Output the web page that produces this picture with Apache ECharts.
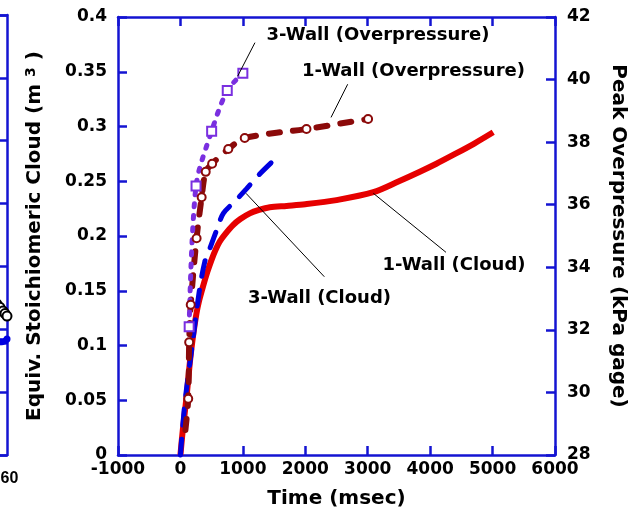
<!DOCTYPE html>
<html>
<head>
<meta charset="utf-8">
<script src="https://cdn.jsdelivr.net/npm/echarts@6/dist/echarts.min.js"></script>
<style>
  html, body { margin: 0; padding: 0; background: #fff; }
  #chart { width: 636px; height: 508px; }
</style>
</head>
<body>
<div id="chart"></div>
<script>
// Equivalent stoichiometric cloud volume, m^3 (left axis)
const oneWallCloudTime = [0, 40, 100, 150, 200, 256, 300, 362, 430, 497, 560, 630, 720, 843, 960, 1111, 1260, 1431, 1700, 2000, 2500, 3090, 3500, 3835, 4100, 4369, 4700, 5010];
const oneWallCloudVol  = [0, 0.024, 0.054, 0.084, 0.108, 0.129, 0.141, 0.154, 0.167, 0.178, 0.187, 0.195, 0.202, 0.210, 0.2155, 0.2207, 0.2238, 0.2262, 0.2275, 0.229, 0.2328, 0.2400, 0.2500, 0.2587, 0.2660, 0.2740, 0.2842, 0.2947];

const threeWallCloudTime = [0, 70, 186, 298, 390, 474, 591, 687, 880, 1050, 1250, 1510];
const threeWallCloudVol  = [0, 0.047, 0.099, 0.148, 0.1765, 0.189, 0.207, 0.2207, 0.232, 0.2426, 0.2555, 0.270];

// Peak overpressure, kPa gage (right axis)
const oneWallOpTime = [80, 125, 140, 165, 259, 340, 405, 508, 767, 1030, 2019, 3006];
const oneWallOpKPa  = [28.8, 29.8, 31.6, 32.8, 34.93, 36.24, 37.05, 37.31, 37.78, 38.13, 38.42, 38.74];

const threeWallOpTime = [140, 250, 500, 750, 1000];
const threeWallOpKPa  = [32.1, 36.6, 38.35, 39.65, 40.2];

// Last few samples of the adjoining panel to the left
const sidePanelBlackX = [59.0, 59.3, 59.6, 59.8, 60];
const sidePanelBlackY = [2.40, 2.35, 2.29, 2.25, 2.21];
const sidePanelBlueX  = [59.3, 59.5, 59.8, 60];
const sidePanelBlueY  = [1.80, 1.80, 1.81, 1.845];

// Callout texts
const labelThreeWallOp = '3-Wall (Overpressure)';
const labelOneWallOp   = '1-Wall (Overpressure)';
const labelThreeWallCloud = '3-Wall (Cloud)';
const labelOneWallCloud   = '1-Wall (Cloud)';

const zip = (xs, ys) => xs.map((x, i) => [x, ys[i]]);
const plain = v => String(v);

const AXIS_BLUE = '#1414d2';
const FONT = 'DejaVu Sans';

function axisLook(extra) {
  return Object.assign({
    axisLine: { show: true, onZero: false, lineStyle: { color: AXIS_BLUE, width: 2.5 } },
    axisTick: { show: true, inside: true, length: 9, lineStyle: { color: AXIS_BLUE, width: 2.5 } },
    splitLine: { show: false },
    nameMoveOverlap: false,
    axisLabel: { color: '#000', fontFamily: FONT, fontWeight: 'bold', fontSize: 17, formatter: plain }
  }, extra);
}

function callout(text, at, from, to) {
  return {
    markLine: {
      silent: true,
      symbol: ['none', 'none'],
      label: { show: false },
      lineStyle: { color: '#000', width: 1, type: 'solid' },
      data: [[{ coord: from }, { coord: to }]]
    },
    markPoint: {
      silent: true,
      symbol: 'rect',
      symbolSize: 1,
      itemStyle: { color: 'transparent' },
      label: {
        show: true, position: 'inside', formatter: text,
        color: '#000', fontFamily: FONT, fontWeight: 'bold', fontSize: 18
      },
      data: [{ coord: at }]
    }
  };
}

const chart = echarts.init(document.getElementById('chart'), null, { renderer: 'canvas' });

const withSymbols = (xs, ys, skipFirst) => zip(xs, ys).map((p, i) =>
  (skipFirst && i === 0) ? { value: p, symbol: 'none' } : { value: p });

chart.setOption({
  animation: false,
  backgroundColor: '#fff',
  grid: [
    { left: 118, right: 81, top: 17, bottom: 53, outerBoundsMode: 'none' },
    { left: -593, right: 629, top: 15, bottom: 53, outerBoundsMode: 'none' }
  ],
  xAxis: [
    axisLook({
      gridIndex: 0, type: 'value', position: 'bottom', min: -1000, max: 6000, interval: 1000,
      axisLabel: { color: '#000', fontFamily: FONT, fontWeight: 'bold', fontSize: 17, margin: 6, formatter: plain },
      name: 'Time (msec)', nameLocation: 'middle', nameGap: 34,
      nameTextStyle: { color: '#000', fontFamily: FONT, fontWeight: 'bold', fontSize: 20 }
    }),
    axisLook({
      gridIndex: 0, type: 'value', position: 'top', min: -1000, max: 6000, interval: 1000,
      axisLabel: { show: false }
    }),
    axisLook({
      gridIndex: 1, type: 'value', position: 'bottom', min: 0, max: 60, interval: 10,
      axisTick: { show: false },
      axisLabel: { color: '#000', fontFamily: 'Liberation Sans', fontWeight: 'bold', fontSize: 16, margin: 16, padding: [0, 0, 0, 5], formatter: plain }
    }),
    axisLook({
      gridIndex: 1, type: 'value', position: 'top', min: 0, max: 60, interval: 10,
      axisTick: { show: false }, axisLabel: { show: false }
    })
  ],
  yAxis: [
    axisLook({
      gridIndex: 0, type: 'value', position: 'left', min: 0, max: 0.4, interval: 0.05,
      axisLabel: { color: '#000', fontFamily: FONT, fontWeight: 'bold', fontSize: 17, margin: 11, formatter: plain },
      name: 'Equiv. Stoichiomeric Cloud (m {sup|3} )', nameLocation: 'middle', nameGap: 72, nameRotate: 90,
      nameTextStyle: {
        color: '#000', fontFamily: FONT, fontWeight: 'bold', fontSize: 20, lineHeight: 22,
        verticalAlign: 'bottom',
        rich: {
          sup: { color: '#000', fontFamily: FONT, fontWeight: 'bold', fontSize: 14, lineHeight: 14,
                 padding: [0, 0, 18, 0], verticalAlign: 'top' }
        }
      }
    }),
    axisLook({
      gridIndex: 0, type: 'value', position: 'right', min: 28, max: 42, interval: 2,
      axisLabel: { color: '#000', fontFamily: FONT, fontWeight: 'bold', fontSize: 17, margin: 12, formatter: plain },
      name: 'Peak Overpressure (kPa gage)', nameLocation: 'middle', nameGap: 53, nameRotate: -90,
      nameTextStyle: { color: '#000', fontFamily: FONT, fontWeight: 'bold', fontSize: 20 }
    }),
    axisLook({
      gridIndex: 1, type: 'value', position: 'right', min: 0, max: 7, interval: 1,
      axisTick: { show: true, inside: true, length: 7, lineStyle: { color: AXIS_BLUE, width: 2.5 } },
      axisLabel: { show: false }
    })
  ],
  series: [
    Object.assign({
      name: labelOneWallCloud, type: 'line', xAxisIndex: 0, yAxisIndex: 0,
      data: zip(oneWallCloudTime, oneWallCloudVol),
      smooth: 0.3, showSymbol: false, clip: false,
      lineStyle: { color: '#e60000', width: 6 }
    }, callout(labelOneWallCloud, [4382, 0.1728], [4254, 0.1851], [3090, 0.239])),
    Object.assign({
      name: labelThreeWallCloud, type: 'line', xAxisIndex: 0, yAxisIndex: 0,
      data: zip(threeWallCloudTime, threeWallCloudVol),
      smooth: 0.3, showSymbol: false, clip: false,
      lineStyle: { color: '#0000e0', width: 5, type: [16, 14], cap: 'round' }
    }, callout(labelThreeWallCloud, [2228, 0.1429], [2305, 0.1628], [1050, 0.239])),
    Object.assign({
      name: labelOneWallOp, type: 'line', xAxisIndex: 0, yAxisIndex: 1,
      data: withSymbols(oneWallOpTime, oneWallOpKPa, true),
      smooth: 0.3, showSymbol: true, showAllSymbol: true, clip: false,
      symbol: 'emptyCircle', symbolSize: 8,
      itemStyle: { color: '#8b0a0a', borderWidth: 1.5 },
      lineStyle: { color: '#8b0a0a', width: 6, type: [11, 13], cap: 'round' }
    }, callout(labelOneWallOp, [3733, 40.27], [2679, 39.85], [2412, 38.79])),
    Object.assign({
      name: labelThreeWallOp, type: 'line', xAxisIndex: 0, yAxisIndex: 1,
      data: withSymbols(threeWallOpTime, threeWallOpKPa, false),
      smooth: 0.3, showSymbol: true, showAllSymbol: true, clip: false,
      symbol: 'emptyRect', symbolSize: 9,
      itemStyle: { color: '#7a2fe0', borderWidth: 1.5 },
      lineStyle: { color: '#7a2fe0', width: 5, type: [3, 9], cap: 'round' }
    }, callout(labelThreeWallOp, [3165, 41.42], [1194, 41.18], [917, 40.11])),
    {
      type: 'line', xAxisIndex: 2, yAxisIndex: 2, clip: false,
      data: zip(sidePanelBlackX, sidePanelBlackY),
      symbol: 'emptyCircle', symbolSize: 9, showAllSymbol: true,
      itemStyle: { color: '#000', borderWidth: 2 },
      lineStyle: { color: '#000', width: 2 }
    },
    {
      type: 'line', xAxisIndex: 2, yAxisIndex: 2, clip: false,
      data: zip(sidePanelBlueX, sidePanelBlueY),
      symbol: 'circle', symbolSize: 7, showAllSymbol: true,
      itemStyle: { color: '#0000e0' },
      lineStyle: { color: '#0000e0', width: 3 }
    }
  ]
});
</script>
</body>
</html>
